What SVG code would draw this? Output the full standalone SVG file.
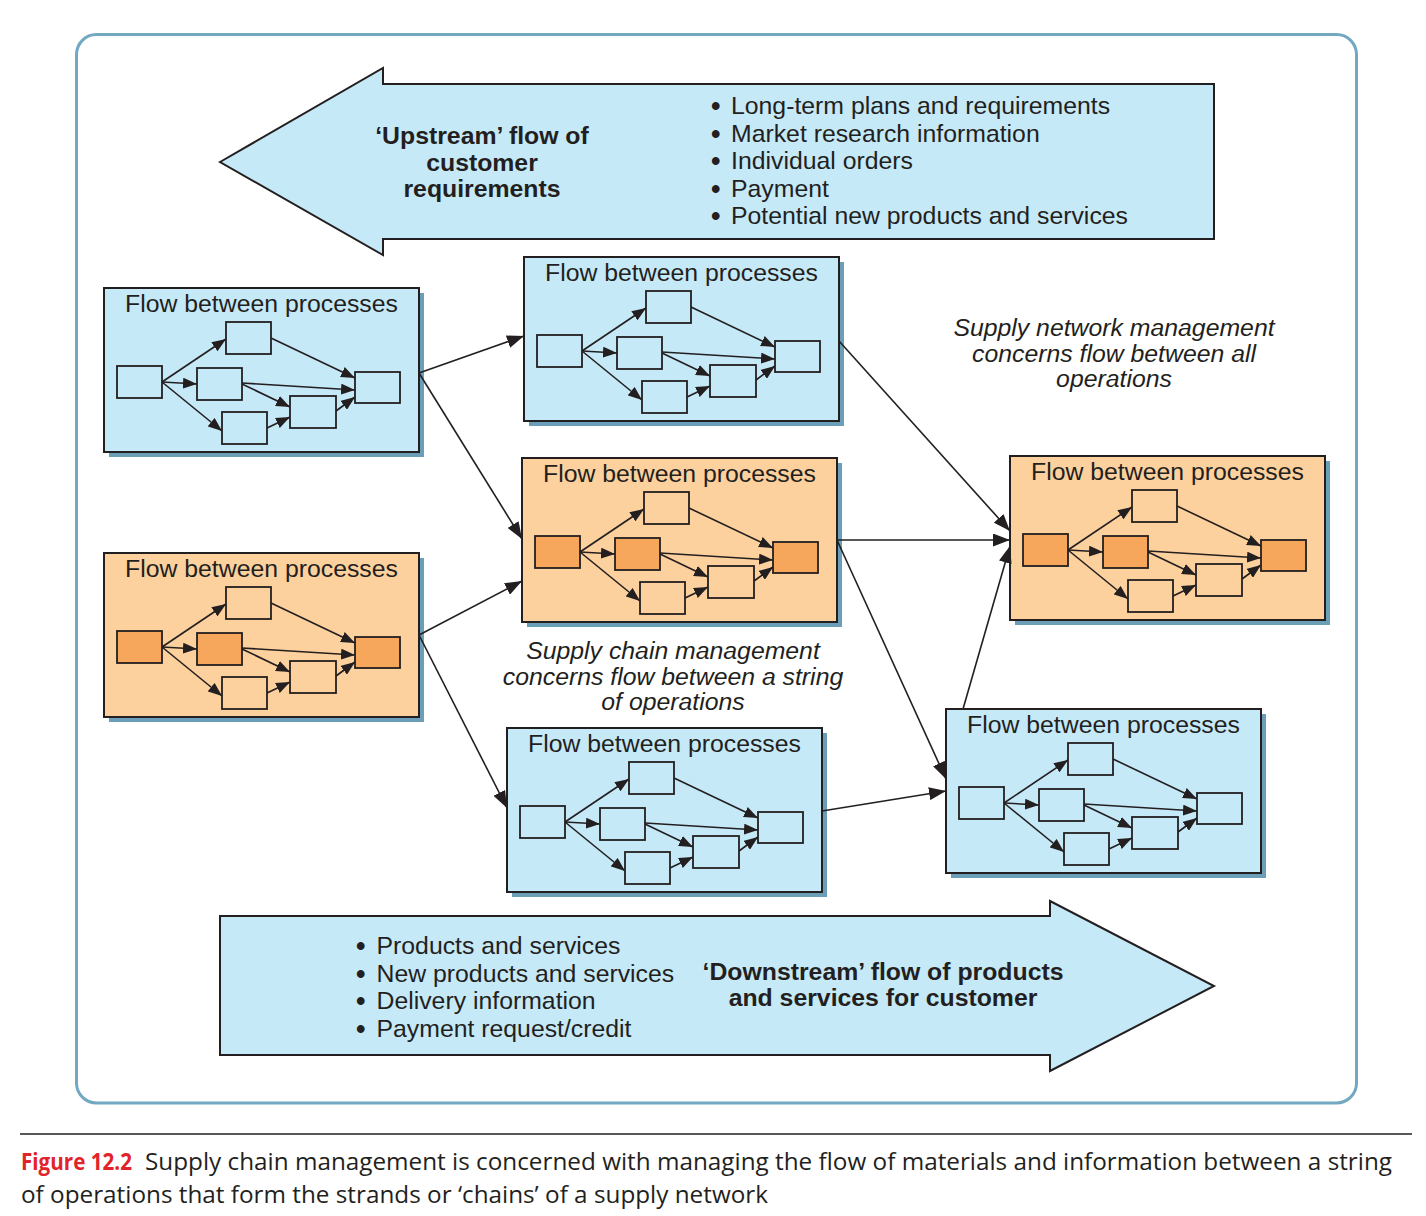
<svg xmlns="http://www.w3.org/2000/svg" xmlns:xlink="http://www.w3.org/1999/xlink" width="1426" height="1216" viewBox="0 0 1426 1216">
<style>
.txt{font-family:"Liberation Sans",Arial,Helvetica,sans-serif;font-size:24.8px;fill:#231f20}
.bul{font-weight:bold;font-size:27px}
.mid{text-anchor:middle}
.bold{font-weight:bold}
.ital{font-style:italic}
.nodebox{stroke:#231f20;stroke-width:2}
.shadow{fill:#6b9fb8}
.blue{fill:#c6e9f8}
.peach{fill:#fdd19d}
.conn{stroke:#231f20;stroke-width:1.6;fill:none}
.cap{font-family:"Open Sans","Noto Sans","Liberation Sans",sans-serif;font-size:23px;fill:#231f20}
</style>
<defs>
<marker id="ahBig" viewBox="0 0 17 13" refX="17" refY="6.5" markerWidth="17" markerHeight="13" markerUnits="userSpaceOnUse" orient="auto">
<path d="M0,0 L17,6.5 L0,13 z" fill="#231f20"/>
</marker>
<marker id="ahSmall" viewBox="0 0 14 11" refX="14" refY="5.5" markerWidth="14" markerHeight="11" markerUnits="userSpaceOnUse" orient="auto">
<path d="M0,0 L14,5.5 L0,11 z" fill="#231f20"/>
</marker>
<g id="flow">
<g stroke="#231f20" stroke-width="1.6" fill="none" marker-end="url(#ahSmall)">
<path d="M58,94 L122,51"/>
<path d="M58,94 L93,96"/>
<path d="M58,94 L118,143"/>
<path d="M167,50 L251,90"/>
<path d="M138,95 L251,102"/>
<path d="M138,96 L186,119"/>
<path d="M163,140 L186,129"/>
<path d="M232,123 L251,109"/>
</g>
<g stroke="#231f20" stroke-width="1.8">
<rect x="13" y="78" width="45" height="32" fill="currentColor"/>
<rect x="122" y="34" width="45" height="32"/>
<rect x="93" y="80" width="45" height="32" fill="currentColor"/>
<rect x="118" y="124" width="45" height="32"/>
<rect x="186" y="108" width="46" height="32"/>
<rect x="251" y="84" width="45" height="31" fill="currentColor"/>
</g>
</g>
</defs>

<rect x="0" y="0" width="1426" height="1216" fill="#ffffff"/>

<g id="frame">
<rect x="76.5" y="34.5" width="1280" height="1068.5" rx="20" ry="20" fill="none" stroke="#72a8c2" stroke-width="3"/>
</g>

<g id="upstream">
<polygon points="220,162 383,68 383,84 1214,84 1214,239 383,239 383,255" class="blue" stroke="#231f20" stroke-width="2" stroke-linejoin="miter"/>
<text class="txt bold mid" x="482" y="144">‘Upstream’ flow of</text>
<text class="txt bold mid" x="482" y="170.5">customer</text>
<text class="txt bold mid" x="482" y="197">requirements</text>
<text class="txt" x="711" y="114"><tspan class="bul" dy="1">•</tspan><tspan x="731" dy="-1">Long-term plans and requirements</tspan></text>
<text class="txt" x="711" y="141.5"><tspan class="bul" dy="1">•</tspan><tspan x="731" dy="-1">Market research information</tspan></text>
<text class="txt" x="711" y="169"><tspan class="bul" dy="1">•</tspan><tspan x="731" dy="-1">Individual orders</tspan></text>
<text class="txt" x="711" y="196.5"><tspan class="bul" dy="1">•</tspan><tspan x="731" dy="-1">Payment</tspan></text>
<text class="txt" x="711" y="224"><tspan class="bul" dy="1">•</tspan><tspan x="731" dy="-1">Potential new products and services</tspan></text>
</g>

<g id="downstream">
<polygon points="220,916 1050,916 1050,901 1214,986 1050,1071 1050,1055 220,1055" class="blue" stroke="#231f20" stroke-width="2"/>
<text class="txt" x="356" y="954"><tspan class="bul" dy="1">•</tspan><tspan x="376.5" dy="-1">Products and services</tspan></text>
<text class="txt" x="356" y="981.5"><tspan class="bul" dy="1">•</tspan><tspan x="376.5" dy="-1">New products and services</tspan></text>
<text class="txt" x="356" y="1009"><tspan class="bul" dy="1">•</tspan><tspan x="376.5" dy="-1">Delivery information</tspan></text>
<text class="txt" x="356" y="1036.5"><tspan class="bul" dy="1">•</tspan><tspan x="376.5" dy="-1">Payment request/credit</tspan></text>
<text class="txt bold mid" x="883" y="980">‘Downstream’ flow of products</text>
<text class="txt bold mid" x="883" y="1006">and services for customer</text>
</g>

<g id="node1">
<rect class="shadow" x="109" y="293" width="315" height="164"/>
<rect class="nodebox blue" x="104" y="288" width="315" height="164"/>
<text class="txt mid" x="261.5" y="311.5">Flow between processes</text>
<use xlink:href="#flow" href="#flow" x="104" y="288" fill="#c6e9f8" color="#c6e9f8"/>
</g>

<g id="node2">
<rect class="shadow" x="109" y="558" width="315" height="164"/>
<rect class="nodebox peach" x="104" y="553" width="315" height="164"/>
<text class="txt mid" x="261.5" y="576.5">Flow between processes</text>
<use xlink:href="#flow" href="#flow" x="104" y="553" fill="#fdd19d" color="#f6a75c"/>
</g>

<g id="node3">
<rect class="shadow" x="529" y="262" width="315" height="164"/>
<rect class="nodebox blue" x="524" y="257" width="315" height="164"/>
<text class="txt mid" x="681.5" y="280.5">Flow between processes</text>
<use xlink:href="#flow" href="#flow" x="524" y="257" fill="#c6e9f8" color="#c6e9f8"/>
</g>

<g id="node4">
<rect class="shadow" x="527" y="463" width="315" height="164"/>
<rect class="nodebox peach" x="522" y="458" width="315" height="164"/>
<text class="txt mid" x="679.5" y="481.5">Flow between processes</text>
<use xlink:href="#flow" href="#flow" x="522" y="458" fill="#fdd19d" color="#f6a75c"/>
</g>

<g id="node5">
<rect class="shadow" x="512" y="733" width="315" height="164"/>
<rect class="nodebox blue" x="507" y="728" width="315" height="164"/>
<text class="txt mid" x="664.5" y="751.5">Flow between processes</text>
<use xlink:href="#flow" href="#flow" x="507" y="728" fill="#c6e9f8" color="#c6e9f8"/>
</g>

<g id="node6">
<rect class="shadow" x="1015" y="461" width="315" height="164"/>
<rect class="nodebox peach" x="1010" y="456" width="315" height="164"/>
<text class="txt mid" x="1167.5" y="479.5">Flow between processes</text>
<use xlink:href="#flow" href="#flow" x="1010" y="456" fill="#fdd19d" color="#f6a75c"/>
</g>

<g id="node7">
<rect class="shadow" x="951" y="714" width="315" height="164"/>
<rect class="nodebox blue" x="946" y="709" width="315" height="164"/>
<text class="txt mid" x="1103.5" y="732.5">Flow between processes</text>
<use xlink:href="#flow" href="#flow" x="946" y="709" fill="#c6e9f8" color="#c6e9f8"/>
</g>

<g id="connectors" class="conn" marker-end="url(#ahBig)">
<path d="M419,373 L524,336"/>
<path d="M419,373 L522,539"/>
<path d="M419,635 L522,581"/>
<path d="M419,635 L507,808"/>
<path d="M839,341 L1010,531"/>
<path d="M837,540 L1010,540"/>
<path d="M837,540 L946,779"/>
<path d="M822,811 L946,791"/>
<path d="M963,709 L1010,546"/>
</g>

<g id="label-chain">
<text class="txt ital mid" x="673" y="659">Supply chain management</text>
<text class="txt ital mid" x="673" y="684.5">concerns flow between a string</text>
<text class="txt ital mid" x="673" y="710">of operations</text>
</g>

<g id="label-network">
<text class="txt ital mid" x="1114" y="336">Supply network management</text>
<text class="txt ital mid" x="1114" y="361.5">concerns flow between all</text>
<text class="txt ital mid" x="1114" y="387">operations</text>
</g>

<g id="caption">
<line x1="20" y1="1134" x2="1412" y2="1134" stroke="#231f20" stroke-width="1.3"/>
<text class="cap" x="21" y="1170" font-weight="bold" style="fill:#e2232a" textLength="111" lengthAdjust="spacingAndGlyphs">Figure 12.2</text>
<text class="cap" x="145" y="1170" textLength="1247" lengthAdjust="spacingAndGlyphs">Supply chain management is concerned with managing the flow of materials and information between a string</text>
<text class="cap" x="21" y="1203" textLength="747" lengthAdjust="spacingAndGlyphs">of operations that form the strands or ‘chains’ of a supply network</text>
</g>
</svg>
